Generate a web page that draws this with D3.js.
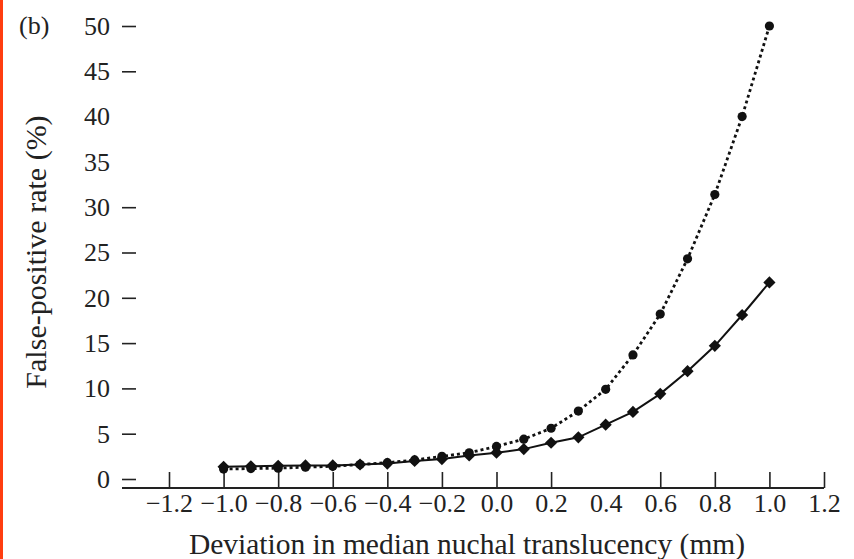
<!DOCTYPE html>
<html>
<head>
<meta charset="utf-8">
<script src="https://cdn.jsdelivr.net/npm/d3@7"></script>
<style>
  html, body { margin: 0; padding: 0; background: #fff; }
  body { width: 854px; height: 559px; overflow: hidden; }
  svg text { font-family: "Liberation Serif", "DejaVu Serif", serif; fill: #222; }
</style>
</head>
<body>
<div id="chart"></div>
<script>
// False-positive rate vs deviation in median NT, panel (b)

const WIDTH = 854;
const HEIGHT = 559;

// deviation (mm)
const deviation = [-1.0, -0.9, -0.8, -0.7, -0.6, -0.5, -0.4, -0.3, -0.2, -0.1,
  0.0, 0.1, 0.2, 0.3, 0.4, 0.5, 0.6, 0.7, 0.8, 0.9, 1.0];

// dotted line, round markers
const fprDotted = [1.1, 1.15, 1.2, 1.3, 1.4, 1.6, 1.8, 2.1, 2.5, 2.9,
  3.6, 4.4, 5.6, 7.5, 9.9, 13.7, 18.2, 24.3, 31.4, 40.0, 50.0];

// solid line, diamond markers
const fprSolid = [1.35, 1.4, 1.45, 1.5, 1.5, 1.6, 1.7, 2.0, 2.2, 2.6,
  2.9, 3.3, 4.0, 4.6, 6.0, 7.4, 9.4, 11.9, 14.7, 18.1, 21.7];

const xTicks = [-1.2, -1.0, -0.8, -0.6, -0.4, -0.2, 0.0, 0.2, 0.4, 0.6, 0.8, 1.0, 1.2];
const yTicks = [0, 5, 10, 15, 20, 25, 30, 35, 40, 45, 50];
// tick marks that are missing in the printed figure
const xNoMark = [0.4];
const yNoMark = [35, 40];

const svg = d3.select("#chart")
  .append("svg")
  .attr("width", WIDTH)
  .attr("height", HEIGHT);

// red page edge on the left
svg.append("rect")
  .attr("x", 0).attr("y", 0)
  .attr("width", 3).attr("height", HEIGHT)
  .attr("fill", "#ff3d10");

const xScale = d3.scaleLinear().domain([-1.2, 1.2]).range([169, 824]);
const yScale = d3.scaleLinear().domain([0, 50]).range([479, 26]);

const axisY0 = 488;
const axisLeftX = 122;

// ---- x axis ----
const xAxis = d3.axisBottom(xScale)
  .tickValues(xTicks)
  .tickSizeInner(-16)
  .tickSizeOuter(0)
  .tickPadding(19)
  .tickFormat(d => d3.format(".1f")(d).replace("-", "\u2212"));

const gx = svg.append("g")
  .attr("transform", `translate(0,${axisY0})`)
  .call(xAxis);
gx.select(".domain").remove();
gx.selectAll(".tick line")
  .attr("stroke", "#222")
  .attr("stroke-width", 1.6)
  .attr("display", d => xNoMark.includes(d) ? "none" : null);
gx.selectAll(".tick text")
  .attr("font-size", 26)
  .attr("dy", "0.2em")
  .attr("fill", "#222");

svg.append("line")
  .attr("x1", axisLeftX).attr("x2", xScale(1.2))
  .attr("y1", axisY0).attr("y2", axisY0)
  .attr("stroke", "#222")
  .attr("stroke-width", 1.8);

// ---- y axis (tick dashes only) ----
const yAxis = d3.axisLeft(yScale)
  .tickValues(yTicks)
  .tickSizeInner(14)
  .tickSizeOuter(0)
  .tickPadding(12);

const gy = svg.append("g")
  .attr("transform", `translate(136,0)`)
  .call(yAxis);
gy.select(".domain").remove();
gy.selectAll(".tick line")
  .attr("stroke", "#222")
  .attr("stroke-width", 1.6)
  .attr("display", d => yNoMark.includes(d) ? "none" : null);
gy.selectAll(".tick text")
  .attr("font-size", 26)
  .attr("fill", "#222");

// ---- labels ----
svg.append("text")
  .attr("x", 467)
  .attr("y", 554)
  .attr("text-anchor", "middle")
  .attr("font-size", 29.5)
  .text("Deviation in median nuchal translucency (mm)");

svg.append("text")
  .attr("transform", "translate(46,252) rotate(-90)")
  .attr("text-anchor", "middle")
  .attr("font-size", 30)
  .text("False-positive rate (%)");

svg.append("text")
  .attr("x", 19)
  .attr("y", 34)
  .attr("font-size", 26)
  .text("(b)");

// ---- series ----
const dotted = deviation.map((x, i) => ({ x, y: fprDotted[i] }));
const solid = deviation.map((x, i) => ({ x, y: fprSolid[i] }));

const line = d3.line()
  .x(d => xScale(d.x))
  .y(d => yScale(d.y));

svg.append("path")
  .datum(dotted)
  .attr("d", line)
  .attr("fill", "none")
  .attr("stroke", "#111")
  .attr("stroke-width", 2.8)
  .attr("stroke-dasharray", "3,3");

svg.append("path")
  .datum(solid)
  .attr("d", line)
  .attr("fill", "none")
  .attr("stroke", "#111")
  .attr("stroke-width", 2);

svg.append("g")
  .selectAll("circle")
  .data(dotted)
  .join("circle")
  .attr("cx", d => xScale(d.x))
  .attr("cy", d => yScale(d.y))
  .attr("r", 4.6)
  .attr("fill", "#111");

const diamond = d3.symbol().type(d3.symbolDiamond2).size(95);
svg.append("g")
  .selectAll("path")
  .data(solid)
  .join("path")
  .attr("transform", d => `translate(${xScale(d.x)},${yScale(d.y)})`)
  .attr("d", diamond)
  .attr("fill", "#111");
</script>
</body>
</html>
